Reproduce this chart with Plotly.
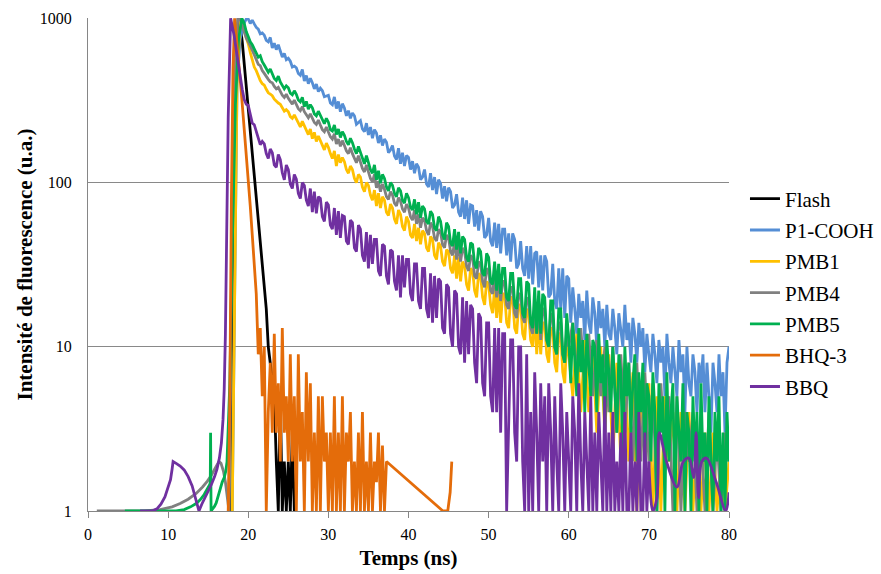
import plotly.graph_objects as go

# ---------------- data ----------------
STEP_FINE = 0.25   # ns, channel grouping for the dense parts of the decays
STEP = 0.5         # ns, channel grouping for the late tails of PMB1 / PMB4

# Flash (instrument response)
flash_rise_t = [17.9, 18.0, 18.2, 18.45]
flash_rise_y = [1, 2, 40, 400]
flash_t0 = 18.75
flash_decay = [1000, 900, 720, 530, 390, 285, 205, 150, 108, 80, 58, 43, 31, 22, 17,
               10, 8, 6, 5, 2, 1, 5, 1, 2, 1, 2, 1, 3, 1]

# P1-COOH
p1_rise_t = [18.0, 18.3, 18.6, 19.0, 19.4, 19.8]
p1_rise_y = [1, 30, 400, 750, 920, 1000]
p1_t0 = 20.0
p1_decay = [990, 930, 975, 925, 880, 860, 805, 815, 790, 735, 720, 765,
            660, 705, 645, 690, 625, 580, 612, 560, 572, 548, 505, 512,
            500, 462, 450, 488, 415, 448, 400, 432, 405, 372, 398, 358,
            375, 362, 333, 338, 340, 305, 298, 332, 282, 312, 270, 302,
            285, 255, 274, 246, 265, 255, 226, 232, 238, 212, 204, 230,
            195, 218, 186, 210, 200, 174, 194, 168, 184, 176, 152, 158,
            168, 145, 138, 162, 130, 152, 126, 146, 142, 120, 135, 114,
            130, 124, 104, 108, 120, 98, 94, 114, 90, 108, 85, 104,
            99, 80, 95, 77, 93, 88, 70, 73, 85, 66, 62, 81,
            60, 78, 56, 73, 72, 54, 68, 51, 67, 62, 46, 48,
            61, 44, 41, 57, 40, 56, 37, 52, 52, 36, 49, 33,
            49, 45, 30, 32, 44, 30, 27, 41, 26, 41, 24, 37,
            38, 23, 36, 22, 36, 33, 20, 21, 32, 19, 17, 30,
            17, 30, 15, 27, 26,
            14, 23, 17, 12, 21, 15, 19, 11, 22, 14, 12, 20, 16, 10, 19, 13, 17, 10, 18, 12,
            11, 17, 13, 9, 16, 12, 10, 18, 11, 14, 8, 15, 12, 8, 14, 10, 13, 7, 12, 9,
            7, 12, 9, 6, 11, 8, 10, 5, 12, 8, 6, 10, 7, 5, 11, 7, 9, 4, 10, 6,
            5, 9, 7, 4, 8, 6, 9, 4, 8, 5, 3, 8, 6, 4, 9, 5, 7, 3, 8, 10]

# PMB1
pmb1_rise_t = [18.0, 18.3, 18.6]
pmb1_rise_y = [1, 30, 400]
pmb1_t0 = 19.0
pmb1_decay = [1000, 930, 850, 760, 700, 620, 560, 505, 480, 445, 418, 400,
              392, 370, 352, 345, 338, 322, 312, 305, 300, 285, 272, 278,
              270, 252, 246, 258, 245, 230, 218, 236, 220, 206, 196, 212,
              185, 202, 178, 192, 180, 166, 158, 174, 164, 150, 140, 156,
              126, 148, 132, 142, 134, 120, 114, 126, 120, 106, 100, 112,
              108, 94, 88, 100, 96, 84, 78, 90, 72, 86, 70, 82,
              78, 66, 63, 74, 70, 60, 56, 68, 64, 54, 51, 62,
              58, 48, 46, 56, 44, 53, 42, 51, 49, 40, 38, 47,
              45, 36, 34, 43, 41, 33, 31, 39, 38, 30, 28, 36,
              26, 35, 25, 33, 31, 24, 22, 30, 29, 22, 20, 28,
              27, 20, 18, 25, 24, 18, 16, 23, 15, 22, 14, 21,
              21, 14, 13, 20, 20, 13, 12, 18, 18, 12, 11, 17,
              16, 11, 10, 16, 9, 15, 9, 14, 14, 9, 8, 13,
              13, 8, 7, 12, 12, 7, 6, 11, 9]
pmb1_tail_t0 = 60.5
pmb1_tail = [5, 12, 4, 11, 4, 10, 3, 10, 3, 9, 2, 8, 2, 8, 2, 7, 1, 6, 2, 6,
             1, 5, 1, 5, 2, 4, 1, 4, 1, 4, 1, 3, 1, 3, 1, 3, 1, 2, 1, 2]

# PMB4
pmb4_pre_t = [1.1, 4.0, 7.0, 9.0, 10.5, 11.5, 12.5, 13.5, 14.3, 14.9, 15.4, 15.8, 16.1,
              16.35, 16.6, 16.9, 17.15, 17.35, 17.5, 17.6]
pmb4_pre_y = [1, 1, 1, 1.02, 1.06, 1.11, 1.18, 1.28, 1.4, 1.52, 1.65, 1.8, 1.92,
              2.0, 1.95, 1.75, 1.5, 1.25, 1.08, 1.0]
pmb4_rise_t = [17.8, 18.1, 18.4, 18.7]
pmb4_rise_y = [10, 150, 600, 1000]
pmb4_t0 = 19.0
pmb4_decay = [980, 900, 820, 760, 720, 670, 640, 600, 560, 525, 515, 480,
              462, 440, 425, 410, 405, 385, 372, 380, 358, 340, 330, 345,
              326, 310, 300, 318, 298, 282, 274, 290, 270, 258, 248, 262,
              246, 232, 226, 240, 224, 210, 204, 218, 203, 190, 184, 198,
              172, 184, 166, 180, 168, 156, 150, 163, 150, 140, 132, 146,
              133, 122, 116, 128, 116, 106, 101, 112, 93, 102, 88, 98,
              91, 82, 79, 88, 84, 75, 72, 81, 77, 69, 66, 74,
              70, 62, 59, 68, 56, 64, 53, 61, 59, 51, 48, 57,
              54, 46, 44, 52, 50, 42, 40, 48, 46, 38, 36, 44,
              34, 42, 33, 40, 38, 31, 29, 36, 35, 27, 26, 33,
              32, 25, 23, 30, 29, 22, 21, 28, 20, 27, 19, 25,
              25, 18, 17, 23, 23, 16, 15, 21, 21, 15, 14, 20,
              19, 13, 12, 18, 12, 18, 11, 17, 17, 11, 10, 16,
              15, 10, 9, 14, 14, 9, 8, 13, 10]
pmb4_tail_t0 = 60.5
pmb4_tail = [14, 7, 13, 6, 12, 5, 11, 5, 10, 4, 10, 3, 9, 3, 8, 2, 8, 2, 7, 2,
             6, 1, 6, 2, 5, 1, 5, 1, 4, 2, 4, 1, 3, 1, 4, 1, 3, 1, 3, 2]

# PMB5
pmb5_pre_t = [4.6, 8.0, 11.0, 12.0, 12.8, 13.5, 14.0, 14.5, 14.9, 15.2, 15.26, 15.3, 15.36,
              15.6, 15.8, 16.0, 16.25, 16.5, 16.75, 17.0, 17.2, 17.35, 17.5, 17.6, 17.7]
pmb5_pre_y = [1, 1, 1, 1.02, 1.06, 1.11, 1.17, 1.26, 1.36, 1.45, 1.5, 3, 1,
              1.03, 1.07, 1.12, 1.25, 1.4, 1.5, 1.6, 1.75, 2.0, 3.0, 4.2, 6]
pmb5_rise_t = [18.0, 18.4, 18.8, 19.2]
pmb5_rise_y = [40, 300, 750, 1000]
pmb5_t0 = 19.5
pmb5_decay = [930, 830,
              775, 720, 690, 650, 625, 580, 592, 545, 520, 488, 470, 492,
              462, 430, 418, 445, 410, 392, 372, 388, 378, 350, 342, 362,
              345, 318, 310, 330, 290, 312, 280, 298, 285, 262, 255, 272,
              258, 240, 228, 246, 233, 210, 206, 224, 196, 212, 188, 204,
              194, 178, 170, 186, 175, 160, 150, 166, 152, 140, 130, 146,
              134, 120, 114, 128, 104, 118, 99, 112, 106, 94, 89, 100,
              96, 86, 82, 93, 89, 78, 75, 86, 81, 71, 68, 79,
              64, 76, 61, 72, 69, 58, 56, 67, 64, 53, 51, 62,
              58, 48, 45, 57, 54, 43, 41, 52, 39, 50, 37, 47,
              45, 35, 33, 43, 42, 32, 30, 40, 38, 28, 27, 37,
              35, 25, 24, 33, 22, 32, 21, 30, 30, 20, 19, 28,
              28, 18, 17, 26, 26, 16, 15, 25, 24, 14, 13, 23,
              12, 22, 12, 21, 20, 11, 10, 19, 19, 10, 9, 17,
              17, 9, 8, 16, 11,
              6, 14, 9, 5, 13, 7, 11, 4, 12, 8, 5, 11, 10, 4, 12, 6, 9, 3, 11, 7,
              4, 10, 6, 3, 9, 7, 2, 10, 5, 8, 3, 6, 9, 2, 7, 4, 8, 2, 6, 5,
              2, 7, 4, 1, 6, 3, 5, 1, 7, 2, 4, 6, 1, 5, 3, 2, 6, 1, 4, 3,
              1, 5, 2, 4, 1, 6, 2, 3, 1, 5, 2, 1, 4, 2, 5, 1, 3, 1, 4, 2]

# BHQ-3
bhq3_rise_t = [17.5, 17.7, 17.9, 18.1, 18.3]
bhq3_rise_y = [1, 5, 80, 500, 1000]
bhq3_t0 = 18.5
bhq3_decay = [800, 580, 420, 300, 215, 150, 105, 72, 48, 30,
              21, 9, 13, 5, 10, 1, 4, 8, 3, 12,
              3, 6, 2, 13, 3, 5, 2, 9, 2, 5,
              1, 9, 2, 4, 1, 7, 2, 6, 1, 3,
              1, 5, 1, 5, 2, 3, 1, 3, 1, 5,
              1, 3, 1, 5, 1, 3, 2, 4, 1, 2,
              1, 3, 1, 4, 1, 2, 1, 3, 1, 2,
              1.5, 3, 1, 2.5, 1, 2]
bhq3_tail_t = [44.3, 44.9, 45.2, 45.4]
bhq3_tail_y = [1, 1, 1.3, 2]

# BBQ
bbq_pre_t = [6.5, 7.5, 8.0, 8.6, 9.1, 9.6, 10.0, 10.3, 10.5, 10.62, 11.0, 11.5, 12.0, 12.5,
             13.0, 13.4, 13.7, 13.85, 14.2, 14.6, 15.0, 15.4, 15.8, 16.1, 16.4, 16.65,
             16.85, 17.0, 17.15, 17.3, 17.5, 17.8]
bbq_pre_y = [1, 1, 1.0, 1.03, 1.1, 1.22, 1.38, 1.55, 1.8, 2.0, 1.95, 1.88, 1.78, 1.62,
             1.42, 1.22, 1.07, 1.0, 1.1, 1.2, 1.32, 1.45, 1.62, 1.8, 2.1, 2.6,
             3.6, 5.5, 12, 40, 250, 1000]
bbq_t0 = 18.0
bbq_decay = [900, 780, 640, 530, 430, 370, 320, 300, 295, 262, 230, 225,
             205, 182, 170, 178, 172, 150, 140, 160, 152, 128, 124, 148,
             138, 115, 104, 128, 120, 98, 92, 112, 105, 86, 80, 100,
             96, 78, 72, 92, 66, 88, 65, 82, 80, 62, 58, 76,
             73, 55, 52, 70, 48, 67, 46, 63, 62, 44, 42, 59,
             57, 40, 38, 55, 52, 36, 33, 50, 30, 48, 32, 45,
             45, 29, 27, 42, 41, 27, 24, 39, 38, 25, 22, 36,
             20, 36, 23, 34, 34, 21, 19, 32, 32, 19, 17, 30,
             30, 17, 15, 28, 14, 27, 15, 26, 25, 13, 12, 24,
             23, 12, 10, 22, 21, 10, 9, 20, 8, 19, 9, 18,
             17, 8, 6, 16, 15, 6, 5, 14, 14, 5, 4, 13,
             4, 13, 3, 12, 12, 1, 4, 11, 11, 3, 2, 10,
             10, 2, 1, 9, 1,
             4, 1, 7, 3, 1, 6, 2, 5, 1, 6, 3, 1, 5, 2, 1, 6, 3, 1, 4, 2,
             1, 5, 3, 1, 6, 2, 1, 4, 2, 1, 5, 1, 3, 1, 4, 2, 1, 5, 1, 3,
             1, 4, 1, 2, 1, 3, 1, 4, 1, 1, 3, 1, 2, 1, 4, 1, 1, 3, 1, 2]
bbq_end_t = [70.0, 70.5, 71.0, 71.3, 72.2, 73.5, 74.3, 75.0, 75.6, 75.9, 76.2, 76.6,
             77.2, 78.4, 79.6, 80.0]
bbq_end_y = [2, 1, 1.2, 3, 2, 1.4, 2, 2.1, 1.6, 3, 1.2, 2, 2.1, 1.5, 1, 1.3]

x_ticks = [0, 10, 20, 30, 40, 50, 60, 70, 80]
y_ticks = [1, 10, 100, 1000]
y_tick_text = ["1", "10", "100", "1000"]

names = ["Flash", "P1-COOH", "PMB1", "PMB4", "PMB5", "BHQ-3", "BBQ"]
colors = ["#000000", "#558ED5", "#FFC000", "#808080", "#00B050", "#E46C0A", "#7030A0"]


def grid(t0, step, n):
    return [round(t0 + i * step, 4) for i in range(n)]


def chain(*parts):
    xs, ys = [], []
    for px, py in parts:
        xs += list(px)
        ys += list(py)
    return xs, ys


segments = {
    "Flash": [chain((flash_rise_t, flash_rise_y),
                    (grid(flash_t0, STEP_FINE, len(flash_decay)), flash_decay)) + ("linear",)],
    "P1-COOH": [chain((p1_rise_t, p1_rise_y),
                      (grid(p1_t0, STEP_FINE, len(p1_decay)), p1_decay)) + ("linear",)],
    "PMB1": [chain((pmb1_rise_t, pmb1_rise_y),
                   (grid(pmb1_t0, STEP_FINE, len(pmb1_decay)), pmb1_decay),
                   (grid(pmb1_tail_t0, STEP, len(pmb1_tail)), pmb1_tail)) + ("linear",)],
    "PMB4": [chain((pmb4_pre_t, pmb4_pre_y), (pmb4_rise_t, pmb4_rise_y),
                   (grid(pmb4_t0, STEP_FINE, len(pmb4_decay)), pmb4_decay),
                   (grid(pmb4_tail_t0, STEP, len(pmb4_tail)), pmb4_tail)) + ("linear",)],
    "PMB5": [chain((pmb5_pre_t, pmb5_pre_y), (pmb5_rise_t, pmb5_rise_y),
                   (grid(pmb5_t0, STEP_FINE, len(pmb5_decay)), pmb5_decay)) + ("linear",)],
    "BHQ-3": [chain((bhq3_rise_t, bhq3_rise_y),
                    (grid(bhq3_t0, STEP_FINE, len(bhq3_decay)), bhq3_decay),
                    (bhq3_tail_t, bhq3_tail_y)) + ("linear",)],
    "BBQ": [chain((bbq_pre_t, bbq_pre_y),
                  (grid(bbq_t0, STEP_FINE, len(bbq_decay)), bbq_decay)) + ("linear",),
            (bbq_end_t, bbq_end_y, "spline")],
}

fig = go.Figure()
for name, color in zip(names, colors):
    for k, (xs, ys, shape) in enumerate(segments[name]):
        fig.add_trace(go.Scatter(
            x=xs, y=ys, mode="lines", name=name, legendgroup=name,
            showlegend=(k == 0),
            line=dict(color=color, width=2.8, shape=shape),
            hoverinfo="skip"))

FONT = "Liberation Serif, Times New Roman, serif"
fig.update_layout(
    width=881, height=574,
    margin=dict(l=88, r=152, t=18, b=63, autoexpand=False),
    paper_bgcolor="white", plot_bgcolor="white",
    font=dict(family=FONT, color="black", size=16),
    legend=dict(xref="container", yref="container",
                x=0.8456, y=0.4895, xanchor="left", yanchor="middle",
                font=dict(family=FONT, size=21, color="black"),
                traceorder="grouped", tracegroupgap=1,
                bgcolor="rgba(0,0,0,0)", borderwidth=0),
    xaxis=dict(range=[0, 80], tickvals=x_ticks, showgrid=False, zeroline=False,
               showline=True, linecolor="#868686", linewidth=1, automargin=False,
               ticks="outside", ticklen=6, tickcolor="#868686",
               ticklabelstandoff=3,
               tickfont=dict(family=FONT, size=16, color="black"),
               title=dict(text="Temps (ns)", standoff=8,
                          font=dict(family=FONT, size=21, color="black", weight="bold"))),
    yaxis=dict(type="log", range=[0, 3.002], tickvals=y_ticks, ticktext=y_tick_text,
               showgrid=True, gridcolor="#898989", gridwidth=1, zeroline=False,
               showline=True, linecolor="#868686", linewidth=1, ticks="",
               automargin=False, ticklabelstandoff=12,
               tickfont=dict(family=FONT, size=16, color="black"),
               title=dict(text="Intensité de fluorescence (u.a.)", standoff=1,
                          font=dict(family=FONT, size=21, color="black", weight="bold"))),
)

fig.write_html("out.html", config={"displayModeBar": False},
               post_script="document.body.style.margin='0';")
